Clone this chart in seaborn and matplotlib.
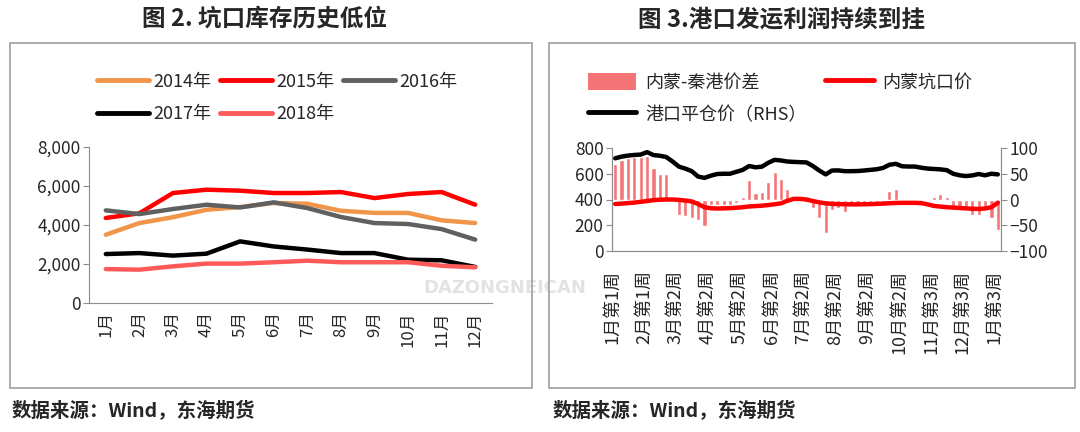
import numpy as np
import pandas as pd
import seaborn as sns
import matplotlib.pyplot as plt
from matplotlib.patches import Rectangle, Patch
from matplotlib.lines import Line2D

sns.set_style("white")
plt.rcParams['font.family'] = ['Noto Sans CJK SC', 'DejaVu Sans']

# ---- left chart: pit-head stocks by month ----
months = ["1月", "2月", "3月", "4月", "5月", "6月", "7月", "8月", "9月", "10月", "11月", "12月"]
years = ["2014年", "2015年", "2016年", "2017年", "2018年"]
stock_2014 = [3500, 4100, 4400, 4780, 4920, 5130, 5090, 4730, 4620, 4620, 4240, 4100]
stock_2015 = [4360, 4600, 5640, 5810, 5760, 5640, 5640, 5690, 5380, 5590, 5690, 5040]
stock_2016 = [4750, 4560, 4820, 5040, 4900, 5160, 4870, 4410, 4100, 4050, 3790, 3250]
stock_2017 = [2510, 2560, 2430, 2530, 3160, 2900, 2740, 2560, 2560, 2220, 2190, 1850]
stock_2018 = [1740, 1710, 1880, 2020, 2020, 2090, 2170, 2090, 2090, 2090, 1910, 1830]
year_colors = ["#F0954A", "#FF0000", "#606060", "#000000", "#FF5A5A"]

# ---- right chart: weekly port shipping profit ----
week_ticks = ["1月第1周", "2月第1周", "3月第2周", "4月第2周", "5月第2周", "6月第2周", "7月第2周",
              "8月第2周", "9月第2周", "10月第2周", "11月第3周", "12月第3周", "1月第3周"]
spread = [69, 76, 80, 82, 83, 85, 62, 50, 50, -1, -30, -32, -36, -39, -52, -11, -11, -11, -10, -6,
          5, 37, 12, 15, 34, 53, 40, 21, 2, 0, -5, -17, -36, -65, -20, -17, -25, -12, -10, -10,
          -8, -8, -6, 16, 21, -3, -3, -3, -4, -3, 5, 11, 5, -15, -15, -20, -30, -30, -20, -35, -60]
pit_price = [365, 368, 372, 376, 382, 388, 395, 398, 400, 400, 397, 392, 385, 365, 340, 332, 330, 331,
             333, 336, 340, 346, 349, 352, 357, 363, 370, 390, 405, 405, 400, 388, 378, 370, 366, 364,
             363, 362, 362, 363, 364, 366, 368, 371, 373, 374, 374, 374, 372, 362, 350, 345, 340, 337,
             334, 331, 328, 327, 330, 340, 375]
port_price = [720, 733, 741, 746, 749, 768, 745, 740, 730, 695, 655, 640, 620, 578, 568, 585, 598, 600,
              600, 615, 630, 660, 650, 655, 685, 708, 703, 695, 692, 690, 688, 660, 625, 595, 625, 626,
              620, 620, 621, 625, 630, 635, 645, 670, 677, 658, 656, 656, 647, 640, 637, 634, 628, 600,
              588, 582, 587, 598, 588, 600, 595]

W, H = 1080, 432
fig = plt.figure(figsize=(10.8, 4.32), dpi=100)
fig.patch.set_facecolor("white")

# frames round each chart
fig.add_artist(Rectangle((10 / W, 1 - 388 / H), 522 / W, 345 / H, transform=fig.transFigure,
                         fill=False, edgecolor="#a6a6a6", linewidth=1.3))
fig.add_artist(Rectangle((549 / W, 1 - 388 / H), 526 / W, 345 / H, transform=fig.transFigure,
                         fill=False, edgecolor="#a6a6a6", linewidth=1.3))

# watermark
fig.text(505 / W, 1 - 288 / H, "DAZONGNEICAN", fontsize=13, fontweight="bold", color="#e3e3e3",
         ha="center", va="center", family="DejaVu Sans", zorder=0)

fig.text(265 / W, 1 - 19 / H, "图 2. 坑口库存历史低位", fontsize=17, fontweight="bold", ha="center", va="center")
fig.text(782 / W, 1 - 19 / H, "图 3.港口发运利润持续到挂", fontsize=17, fontweight="bold", ha="center", va="center")
fig.text(12 / W, 1 - 411 / H, "数据来源：Wind，东海期货", fontsize=14, fontweight="bold", ha="left", va="center")
fig.text(553 / W, 1 - 411 / H, "数据来源：Wind，东海期货", fontsize=14, fontweight="bold", ha="left", va="center")

spine_gray = "#8c8c8c"

# ---------------- left chart ----------------
ax1 = fig.add_axes([89 / W, 1 - 303 / H, 403 / W, 156 / H])
ax1.set_facecolor("none")
df = pd.DataFrame({"idx": np.tile(np.arange(len(months)), len(years)),
                   "value": stock_2014 + stock_2015 + stock_2016 + stock_2017 + stock_2018,
                   "year": np.repeat(years, len(months))})
sns.lineplot(data=df, x="idx", y="value", hue="year", palette=year_colors, linewidth=3.2,
             legend=False, ax=ax1)
ax1.set_xlim(-0.5, len(months) - 0.5)
ax1.set_ylim(0, 8000)
ax1.set_yticks([0, 2000, 4000, 6000, 8000])
ax1.set_yticklabels([f"{v:,}" for v in [0, 2000, 4000, 6000, 8000]])
ax1.set_xticks(range(len(months)))
ax1.set_xticklabels(months, rotation=90)
ax1.set(xlabel="", ylabel="")
for s in ["top", "right"]:
    ax1.spines[s].set_visible(False)
for s in ["left", "bottom"]:
    ax1.spines[s].set_color(spine_gray)
ax1.tick_params(axis="y", direction="out", length=4, color=spine_gray, labelsize=12.5, pad=2, left=True)
ax1.tick_params(axis="x", length=0, labelsize=12, pad=6)

h = [Line2D([], [], color=c, linewidth=3.5) for c in year_colors]
order = [0, 3, 1, 4, 2]
fig.legend([h[i] for i in order], [years[i] for i in order], ncol=3, loc="upper left",
           bbox_to_anchor=(84 / W, 1 - 60 / H), frameon=False, fontsize=13, handlelength=2.9,
           handletextpad=0.25, columnspacing=0.45, labelspacing=0.8, borderpad=0.2)

# ---------------- right chart ----------------
ax2 = fig.add_axes([612 / W, 1 - 251 / H, 389 / W, 103 / H])
ax2r = ax2.twinx()
n = len(spread)
sns.barplot(x=np.arange(n), y=spread, ax=ax2r, color="#F47578", width=0.65, saturation=1)
sns.lineplot(x=np.arange(n), y=pit_price, ax=ax2, color="#FF0000", linewidth=3.2)
sns.lineplot(x=np.arange(n), y=port_price, ax=ax2, color="#000000", linewidth=3.2)
ax2.set_zorder(ax2r.get_zorder() + 1)
ax2.patch.set_visible(False)
ax2r.patch.set_visible(False)

ax2.set_xlim(-0.5, n - 0.5)
ax2.set_ylim(0, 800)
ax2.set_yticks([0, 200, 400, 600, 800])
ax2r.set_ylim(-100, 100)
ax2r.set_yticks([-100, -50, 0, 50, 100])
ax2.set_xticks(np.arange(len(week_ticks)) * 5 - 0.5)
ax2.set_xticklabels(week_ticks, rotation=90)
ax2.set(xlabel="", ylabel="")
ax2r.set(xlabel="", ylabel="")
for a in (ax2, ax2r):
    a.spines["top"].set_visible(False)
    for s in ["left", "right", "bottom"]:
        a.spines[s].set_color(spine_gray)
ax2.tick_params(axis="y", direction="out", length=4, color=spine_gray, labelsize=12.5, pad=2, left=True)
ax2r.tick_params(axis="y", direction="out", length=4, color=spine_gray, labelsize=12.5, pad=2, right=True)
ax2.tick_params(axis="x", length=0, labelsize=13, pad=14)

h2 = [Patch(facecolor="#F47578", edgecolor="none"),
      Line2D([], [], color="#000000", linewidth=3.5),
      Line2D([], [], color="#FF0000", linewidth=3.5)]
l2 = ["内蒙-秦港价差", "港口平仓价（RHS）", "内蒙坑口价"]
fig.legend(h2, l2, ncol=2, loc="upper left", bbox_to_anchor=(575 / W, 1 - 60 / H), frameon=False,
           fontsize=13, handlelength=2.7, handleheight=1.1, handletextpad=0.5, columnspacing=1.0,
           labelspacing=0.75, borderpad=0.2)

fig.savefig("out.png", dpi=100)
